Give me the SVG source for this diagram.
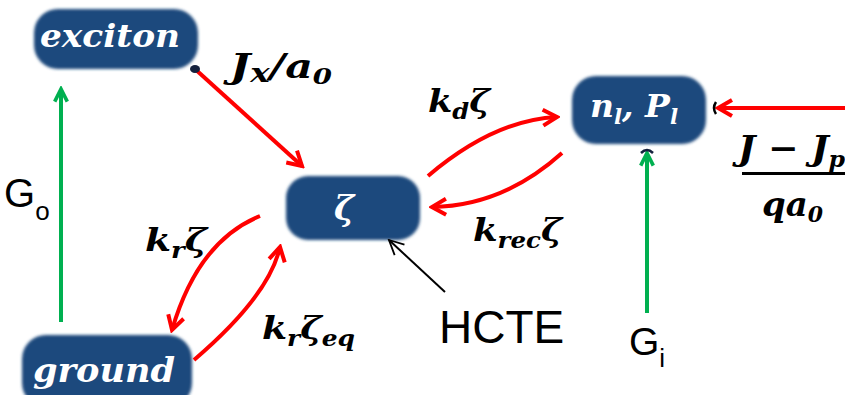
<svg xmlns="http://www.w3.org/2000/svg" width="845" height="395" viewBox="0 0 845 395">
  <defs>
    <filter id="soft" x="-10%" y="-20%" width="120%" height="140%">
      <feGaussianBlur stdDeviation="1.8"/>
    </filter>
    <marker id="redHead" viewBox="0 0 20 20" refX="17" refY="10" markerWidth="20" markerHeight="20" markerUnits="userSpaceOnUse" orient="auto">
      <path d="M3,2 L17,10 L3,18" fill="none" stroke="#ff0000" stroke-width="4" stroke-linejoin="miter"/>
    </marker>
    <marker id="greenHead" viewBox="0 0 20 20" refX="17" refY="10" markerWidth="18" markerHeight="18" markerUnits="userSpaceOnUse" orient="auto">
      <path d="M3,3 L17,10 L3,17" fill="none" stroke="#00b050" stroke-width="4"/>
    </marker>
    <marker id="blackHead" viewBox="0 0 20 20" refX="18" refY="10" markerWidth="18" markerHeight="18" markerUnits="userSpaceOnUse" orient="auto">
      <path d="M2,2 L18,10 L2,18" fill="none" stroke="#000" stroke-width="2"/>
    </marker>
  </defs>
  <style>
    .node { fill: #1f497d; filter: url(#soft); }
    .nlabel { fill: #fff; font-family: "DejaVu Serif", "Liberation Serif", serif; font-style: italic; font-weight: bold; }
    .math { fill: #000; font-family: "DejaVu Serif", "Liberation Serif", serif; font-style: italic; font-weight: bold; }
    .sans { fill: #000; font-family: "Liberation Sans", Arial, sans-serif; }
    .red { fill: none; stroke: #ff0000; stroke-width: 4; marker-end: url(#redHead); }
    .green { fill: none; stroke: #00b050; stroke-width: 4; marker-end: url(#greenHead); }
    .black { fill: none; stroke: #000; stroke-width: 2; marker-end: url(#blackHead); }
  </style>

  <rect width="845" height="395" fill="#fff"/>

  <!-- state boxes -->
  <g id="exciton">
    <rect class="node" x="34" y="9" width="164" height="60" rx="24"/>
    <text class="nlabel" x="40" y="47" font-size="32" textLength="140" lengthAdjust="spacingAndGlyphs">exciton</text>
  </g>
  <g id="ground">
    <rect class="node" x="22" y="335" width="170" height="72" rx="24"/>
    <text class="nlabel" x="33" y="382" font-size="34" textLength="142" lengthAdjust="spacingAndGlyphs">ground</text>
  </g>
  <g id="hcte">
    <rect class="node" x="286" y="176" width="134" height="64" rx="22"/>
    <text class="nlabel" x="344" y="220" font-size="34" font-weight="normal" text-anchor="middle">ζ</text>
  </g>
  <g id="free-carriers">
    <rect class="node" x="572" y="76" width="134" height="68" rx="24"/>
    <text class="nlabel" x="590" y="117" font-size="31" textLength="88" lengthAdjust="spacingAndGlyphs">n<tspan font-size="20" dy="7">l</tspan><tspan dy="-7">, P</tspan><tspan font-size="20" dy="7">l</tspan></text>
  </g>

  <!-- transitions -->
  <g id="connectors">
    <path class="red" d="M195,69 L302,166"/>
    <path class="red" d="M428,176 Q494,120 557,117"/>
    <path class="red" d="M562,153 Q503,206 432,207"/>
    <path class="red" d="M260,216 Q198,241 172,330"/>
    <path class="red" d="M194,360 Q269,296 280,247"/>
    <path class="red" d="M845,108 L718,108"/>
    <path class="green" d="M61,322 L61,89"/>
    <path class="green" d="M647,313 L647,153"/>
    <path class="black" d="M445,292 L389,240"/>
    <ellipse cx="195" cy="69" rx="5" ry="4" fill="#14213d"/>
    <path d="M716,102 Q712,108 716,114" fill="none" stroke="#000" stroke-width="2.5"/>
    <path d="M641,153 Q647,147 653,153" fill="none" stroke="#14213d" stroke-width="2.5"/>
  </g>

  <!-- rate labels -->
  <text class="math" x="230" y="78" font-size="34" textLength="102" lengthAdjust="spacingAndGlyphs">J<tspan font-size="26" dy="4">x</tspan><tspan dy="-4">/a</tspan><tspan font-size="22" dy="6">0</tspan></text>
  <text class="math" x="428" y="112" font-size="32" textLength="62" lengthAdjust="spacingAndGlyphs">k<tspan font-size="22" dy="7">d</tspan><tspan dy="-7">ζ</tspan></text>
  <text class="math" x="473" y="241" font-size="32" textLength="89" lengthAdjust="spacingAndGlyphs">k<tspan font-size="22" dy="7">rec</tspan><tspan dy="-7">ζ</tspan></text>
  <text class="math" x="145" y="251" font-size="32" textLength="62" lengthAdjust="spacingAndGlyphs">k<tspan font-size="22" dy="7">r</tspan><tspan dy="-7">ζ</tspan></text>
  <text class="math" x="262" y="339" font-size="32" textLength="93" lengthAdjust="spacingAndGlyphs">k<tspan font-size="22" dy="7">r</tspan><tspan dy="-7">ζ</tspan><tspan font-size="22" dy="7">eq</tspan></text>

  <!-- injection term -->
  <text class="math" x="738" y="160" font-size="34" textLength="107" lengthAdjust="spacingAndGlyphs">J − J<tspan font-size="22" dy="7">p</tspan></text>
  <rect x="742" y="172" width="103" height="3" fill="#000"/>
  <text class="math" x="762" y="216" font-size="34" textLength="61" lengthAdjust="spacingAndGlyphs">qa<tspan font-size="22" dy="6">0</tspan></text>

  <!-- generation and annotation labels -->
  <text class="sans" x="4" y="207" font-size="40">G<tspan font-size="26" dy="13">o</tspan></text>
  <text class="sans" x="629" y="355" font-size="39">G<tspan font-size="26" dy="12">i</tspan></text>
  <text class="sans" x="439" y="343" font-size="46">HCTE</text>
</svg>
